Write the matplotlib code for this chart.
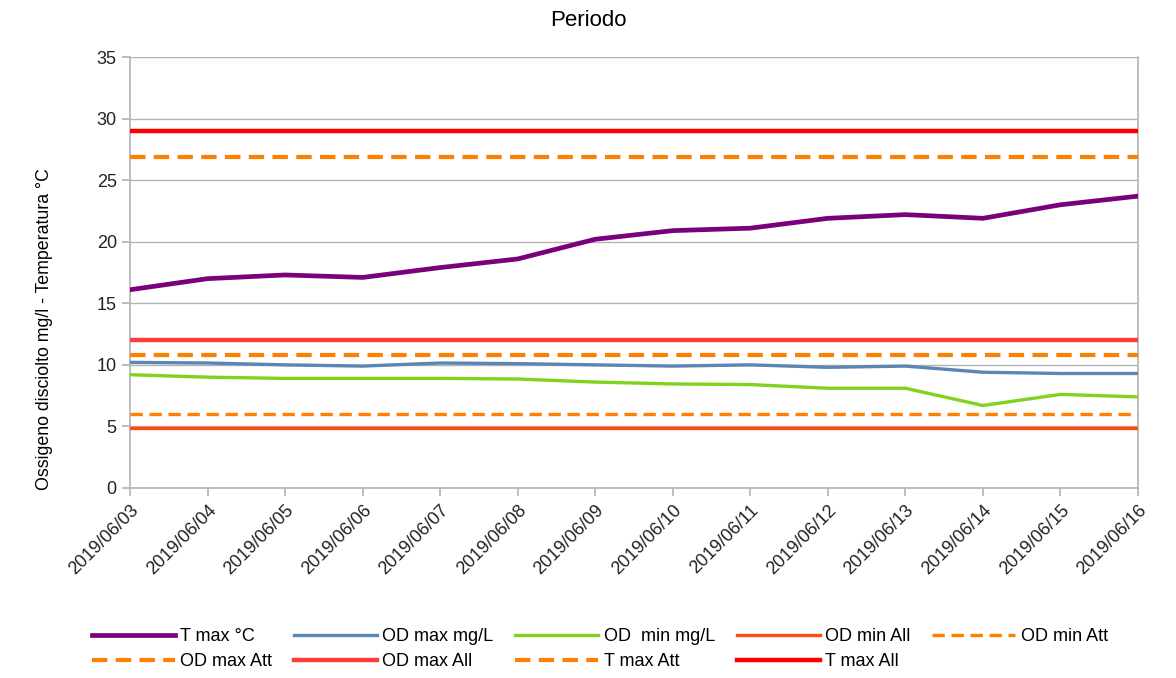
import matplotlib.pyplot as plt

plt.rcParams['font.family'] = ['Liberation Sans', 'DejaVu Sans']

# --- data ---
dates = ["2019/06/03", "2019/06/04", "2019/06/05", "2019/06/06", "2019/06/07",
         "2019/06/08", "2019/06/09", "2019/06/10", "2019/06/11", "2019/06/12",
         "2019/06/13", "2019/06/14", "2019/06/15", "2019/06/16"]

t_max = [16.1, 17.0, 17.3, 17.1, 17.9, 18.6, 20.2, 20.9, 21.1, 21.9, 22.2, 21.9, 23.0, 23.7]
od_max = [10.2, 10.15, 10.0, 9.9, 10.15, 10.1, 10.0, 9.9, 10.0, 9.8, 9.9, 9.4, 9.3, 9.3]
od_min = [9.2, 9.0, 8.9, 8.9, 8.9, 8.85, 8.6, 8.45, 8.4, 8.1, 8.1, 6.7, 7.6, 7.4]

# threshold levels (constant over the period)
od_min_all = 4.9
od_min_att = 6.0
od_max_att = 10.8
od_max_all = 12.0
t_max_att = 26.9
t_max_all = 29.0

yticks = [0, 5, 10, 15, 20, 25, 30, 35]

x = list(range(len(dates)))
n = len(dates)

fig = plt.figure(figsize=(11.76, 6.78), dpi=100)
ax = fig.add_axes([130 / 1176, 1 - 488 / 678, (1138 - 130) / 1176, (488 - 57) / 678])

dash = (3.7, 2.0)
h = {}
h['tmax'], = ax.plot(x, t_max, color='#7b007b', lw=3.4, label='T max °C', zorder=5)
h['odmax'], = ax.plot(x, od_max, color='#5b85b5', lw=2.4, label='OD max mg/L', zorder=5)
h['odmin'], = ax.plot(x, od_min, color='#7fd21e', lw=2.4, label='OD  min mg/L', zorder=5)
h['odminall'], = ax.plot(x, [od_min_all] * n, color='#ff4a0f', lw=2.4, label='OD min All', zorder=4)
h['odminatt'], = ax.plot(x, [od_min_att] * n, color='#ff8000', lw=2.4, dashes=dash, label='OD min Att', zorder=4)
h['odmaxatt'], = ax.plot(x, [od_max_att] * n, color='#ff8000', lw=3.0, dashes=dash, label='OD max Att', zorder=4)
h['odmaxall'], = ax.plot(x, [od_max_all] * n, color='#ff3c3c', lw=3.2, label='OD max All', zorder=4)
h['tmaxatt'], = ax.plot(x, [t_max_att] * n, color='#ff8000', lw=3.0, dashes=dash, label='T max Att', zorder=4)
h['tmaxall'], = ax.plot(x, [t_max_all] * n, color='#ff0000', lw=3.2, label='T max All', zorder=4)

ax.set_xlim(0, n - 1)
ax.set_ylim(0, 35)
ax.set_yticks(yticks)
ax.set_xticks(x)
ax.set_xticklabels(dates, rotation=45, ha='right', va='top', rotation_mode='anchor')
ax.grid(axis='y', color='#b3b3b3', lw=1.0)
ax.set_axisbelow(True)

for side in ['left', 'bottom', 'right']:
    ax.spines[side].set_color('#b3b3b3')
    ax.spines[side].set_linewidth(1.2)
ax.spines['top'].set_visible(False)
ax.tick_params(axis='both', colors='#b3b3b3', length=6, width=1.2, labelsize=13,
               labelcolor='#222222')
ax.tick_params(axis='x', pad=4)

# y axis title sits lower than the plot centre in the reference
fig.text(45 / 1176, 1 - 329 / 678, 'Ossigeno disciolto mg/l - Temperatura °C',
         rotation=90, ha='center', va='center', fontsize=12.8)
fig.text(0.5, 1 - 20 / 678, 'Periodo', ha='center', va='center', fontsize=16)

# legend filled column-wise, so reorder to read row by row
order = ['tmax', 'odmaxatt', 'odmax', 'odmaxall', 'odmin', 'tmaxatt',
         'odminall', 'tmaxall', 'odminatt']
handles = [h[k] for k in order]
fig.legend(handles, [hh.get_label() for hh in handles], ncol=5, frameon=False,
           loc='center', bbox_to_anchor=(0.51, 1 - 649 / 678), fontsize=13,
           handlelength=4.6, handletextpad=0.3, columnspacing=1.2,
           labelspacing=0.45)

fig.savefig('out.png', dpi=100)
